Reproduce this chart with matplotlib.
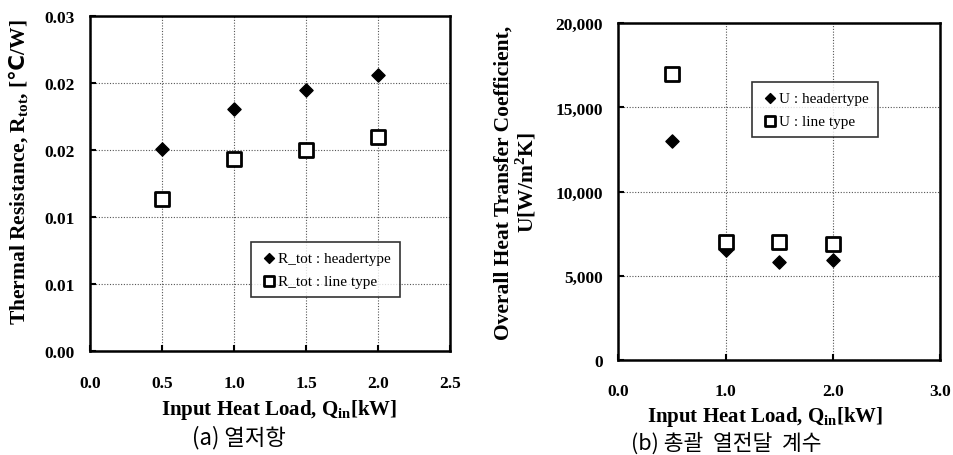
import matplotlib
matplotlib.use('Agg')
import matplotlib.pyplot as plt
from matplotlib.ticker import FuncFormatter

plt.rcParams['font.family'] = ['Liberation Serif', 'DejaVu Serif']
plt.rcParams['mathtext.fontset'] = 'custom'
plt.rcParams['mathtext.rm'] = 'Liberation Serif'
plt.rcParams['mathtext.bf'] = 'Liberation Serif:bold'
plt.rcParams['mathtext.sf'] = 'DejaVu Sans:bold'

# data
q = [0.5, 1.0, 1.5, 2.0]
r_header = [0.0181, 0.0217, 0.0234, 0.0247]
r_line = [0.0136, 0.0172, 0.0180, 0.0192]
u_header = [13000, 6520, 5830, 5950]
u_line = [17000, 6980, 7010, 6860]

left_xticks = [0.0, 0.5, 1.0, 1.5, 2.0, 2.5]
left_yticks = [0.0, 0.006, 0.012, 0.018, 0.024, 0.030]
right_xticks = [0.0, 1.0, 2.0, 3.0]
right_yticks = [0, 5000, 10000, 15000, 20000]

fig = plt.figure(figsize=(9.54, 4.56), dpi=100)
ax1 = fig.add_axes([0.0943, 0.228, 0.3774, 0.7346])
ax2 = fig.add_axes([0.6481, 0.209, 0.3372, 0.7377])

bold = dict(fontweight='bold')


def style(ax):
    for s in ax.spines.values():
        s.set_linewidth(1.8)
    ax.grid(True, color='#555555', linestyle=(0, (1, 1.5)), linewidth=0.8)
    ax.set_axisbelow(True)
    ax.tick_params(direction='in', length=4, width=1.5, labelsize=12.5, pad=11)
    ax.tick_params(axis='x', pad=17)
    for lab in ax.get_xticklabels() + ax.get_yticklabels():
        lab.set_fontweight('bold')


# (a) thermal resistance
ax1.scatter(q, r_header, marker='D', s=45, color='black', label='R_tot : headertype', zorder=3)
ax1.scatter(q, r_line, marker='s', s=90, facecolor='white', edgecolor='black',
            linewidth=2, label='R_tot : line type', zorder=3)
ax1.set_xlim(0, 2.5)
ax1.set_ylim(0, 0.03)
ax1.set_xticks(left_xticks)
ax1.set_yticks(left_yticks)
ax1.xaxis.set_major_formatter(FuncFormatter(lambda v, p: '%.1f' % v))
ax1.yaxis.set_major_formatter(FuncFormatter(lambda v, p: '%.2f' % v))
style(ax1)
ax1.set_xlabel(r'Input Heat Load, Q$_{\mathbf{in}}$[kW]', fontsize=15, **bold)
ax1.xaxis.set_label_coords(0.525, -0.137)
ax1.set_ylabel(r'Thermal Resistance, R$_{\mathbf{tot}}$, [$\mathsf{℃}$/W]', fontsize=15.5, **bold)
ax1.yaxis.set_label_coords(-0.165, 0.537)
leg1 = ax1.legend(loc='upper left', bbox_to_anchor=(0.447, 0.325), frameon=True, fancybox=False,
                  edgecolor='black', fontsize=11, handletextpad=0.0, handlelength=1.2,
                  borderpad=0.6, labelspacing=0.6, markerscale=0.75, borderaxespad=0)
leg1.get_frame().set_linewidth(1.2)

# (b) overall heat transfer coefficient
ax2.scatter(q, u_header, marker='D', s=45, color='black', label='U : headertype', zorder=3)
ax2.scatter(q, u_line, marker='s', s=90, facecolor='white', edgecolor='black',
            linewidth=2, label='U : line type', zorder=3)
ax2.set_xlim(0, 3.0)
ax2.set_ylim(0, 20000)
ax2.set_xticks(right_xticks)
ax2.set_yticks(right_yticks)
ax2.xaxis.set_major_formatter(FuncFormatter(lambda v, p: '%.1f' % v))
ax2.yaxis.set_major_formatter(FuncFormatter(lambda v, p: '{:,.0f}'.format(v)))
style(ax2)
ax2.set_xlabel(r'Input Heat Load, Q$_{\mathbf{in}}$[kW]', fontsize=15, **bold)
ax2.xaxis.set_label_coords(0.456, -0.131)
ax2.set_ylabel('Overall Heat Transfer Coefficient,\n' + r'U[W/m$^{\mathbf{2}}$K]',
               fontsize=15.5, linespacing=1.0, **bold)
ax2.yaxis.set_label_coords(-0.25, 0.528)
leg2 = ax2.legend(loc='upper left', bbox_to_anchor=(0.4156, 0.8255), frameon=True, fancybox=False,
                  edgecolor='black', fontsize=11, handletextpad=0.0, handlelength=1.2,
                  borderpad=0.6, labelspacing=0.6, markerscale=0.75, borderaxespad=0)
leg2.get_frame().set_linewidth(1.2)

# captions
fig.text(239 / 954, 1 - 438 / 456, '(a) 열저항', ha='center', va='center', fontsize=16,
         family=['Noto Sans CJK KR', 'DejaVu Sans'])
fig.text(726 / 954, 1 - 444 / 456, '(b) 총괄  열전달  계수', ha='center', va='center', fontsize=15.5,
         family=['Noto Sans CJK KR', 'DejaVu Sans'])

fig.savefig('out.png', dpi=100)
